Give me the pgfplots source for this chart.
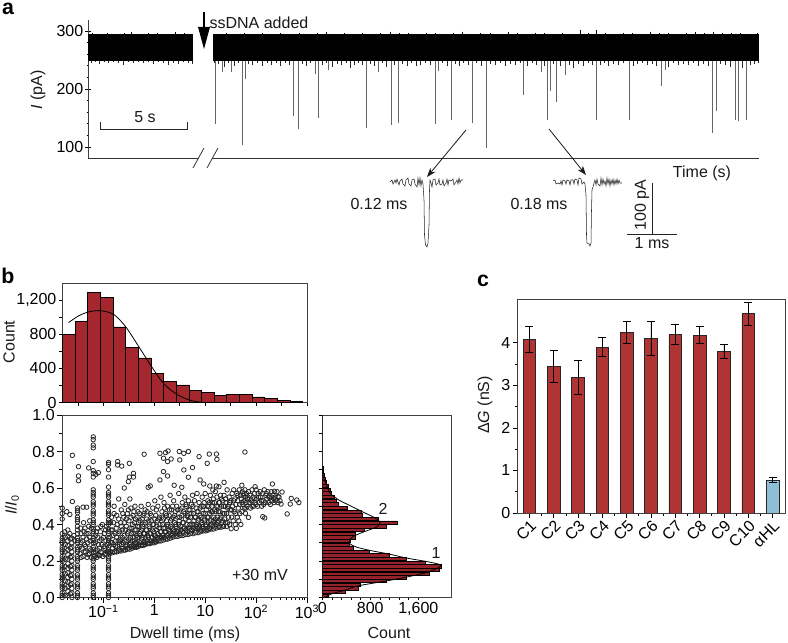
\documentclass[border=0pt]{standalone}
\usepackage{fontspec}
\setmainfont{Liberation Sans}
\usepackage{pgfplots}
\pgfplotsset{compat=1.18}
\usetikzlibrary{arrows.meta}
\definecolor{histred}{RGB}{165,38,44}
\definecolor{barred}{RGB}{176,52,52}
\definecolor{barblue}{RGB}{143,191,214}
\newcommand{\chartfont}{\fontsize{12}{14}\selectfont}
\tikzset{lbl/.style={font=\chartfont, text=black!90}, plab/.style={font=\fontsize{16}{18}\selectfont\bfseries, text=black}}
\pgfplotsset{
  panel/.style={
    scale only axis, anchor=south west, tick align=outside,
    tick label style={font=\chartfont, inner sep=1.5pt},
    major tick length=3.8pt, minor tick length=2.2pt,
    tick style={black, line width=.5pt},
    axis line style={draw=black!75, line width=.7pt},
    xtick pos=bottom, ytick pos=left,
  },
}
\begin{document}
\begin{tikzpicture}
\path[use as bounding box] (0,0) rectangle (591pt,481.5pt);

% panel a: x is the position along the trace, 17.4 units = 1 s
\begin{axis}[panel, at={(66pt,363pt)}, width=503.25pt, height=103.5pt,
  xmin=88, xmax=759, ymin=81, ymax=319,
  axis x line=none, axis y line=left, axis line style={-, draw=black!75, line width=.7pt},
  ytick={100,200,300}, yticklabels={100,200,300}, minor y tick num=4]
% deep events
\addplot[draw=none, mark=none, error bars/.cd, y dir=plus, y explicit, error mark=none,
  error bar style={black!60, line width=.75pt}]
  table[x=t, y=i, y error expr=270-\thisrow{i}] {
t i
215 140
222 229
231 229
242 103
245 217
293 153
298 131
315 226
318 150
328 233
366 133
378 229
391 138
398 141
435 140
438 231
451 147
472 141
486 98
523 190
541 229
547 147
550 197
556 178
565 224
596 147
629 147
661 205
665 233
712 124
716 162
735 147
738 145
746 147
};
% noise below the band
\addplot[draw=none, mark=none, error bars/.cd, y dir=plus, y explicit, error mark=none,
  error bar style={black!85, line width=.5pt}]
  table[x=t, y=i, y error expr=270-\thisrow{i}] {
t i
91 245
95 247
99 243
104 246
108 244
113 247
118 245
123 242
128 246
133 244
138 247
143 245
148 246
153 243
158 247
163 244
168 241
173 245
178 243
183 246
188 244
192 243
214 244
218 243
224 238
228 244
234 239
238 245
248 243
252 241
257 245
262 240
267 244
271 242
276 245
280 239
285 244
289 241
302 243
306 240
310 244
322 242
326 245
332 238
337 243
341 241
346 244
350 237
354 242
358 244
362 241
370 243
374 240
382 244
386 238
394 242
402 243
407 240
411 244
416 239
420 242
425 245
430 241
442 244
447 239
455 243
459 240
463 245
468 241
476 244
481 240
490 243
495 241
500 245
505 240
510 243
515 241
520 245
527 240
532 244
536 242
544 240
553 243
560 239
569 241
573 237
578 243
583 240
588 244
592 241
600 242
604 245
608 240
613 243
618 241
623 244
633 240
637 243
642 245
647 241
652 243
656 240
668 238
673 244
678 241
683 243
688 242
693 245
698 240
703 243
708 240
720 243
725 241
730 238
742 236
750 241
754 243
758 244
};
% noise above the band
\addplot[draw=none, mark=none, error bars/.cd, y dir=minus, y explicit, error mark=none,
  error bar style={black, line width=.5pt}]
  table[x=t, y=i, y error expr=\thisrow{i}-270] {
t i
92 296
99 295
107 297
115 295
124 296
131 298
140 295
148 296
157 297
166 295
175 298
184 296
191 295
218 295
226 296
235 295
244 297
253 295
262 296
271 295
280 296
290 295
299 297
308 295
317 296
326 298
335 295
344 296
353 295
362 297
371 295
380 296
390 299
399 296
408 296
417 295
426 297
435 296
444 295
453 296
462 299
471 295
480 296
490 297
499 295
508 298
517 296
526 295
535 297
544 296
553 295
562 296
571 295
580 302
588 297
596 301
605 296
614 295
623 297
632 296
641 295
650 299
659 296
668 297
677 295
686 296
695 298
704 296
713 299
722 296
731 297
740 296
750 295
757 296
};
% the band itself
\addplot[fill=black, draw=none] coordinates {(88,248)(88,294)(193,294)(193,248)} -- cycle;
\addplot[fill=black, draw=none] coordinates {(213,248)(213,294)(759,294)(759,248)} -- cycle;
\end{axis}

% panel b, top histogram; x in decades of dwell time
\begin{axis}[panel, at={(46.5pt,179.625pt)}, width=183.75pt, height=89.625pt,
  xmin=-1.814, xmax=3, ymin=0, ymax=1400,
  ytick={0,400,800,1200}, yticklabels={0,400,800,{1,200}}, minor y tick num=1,
  xtick={-1.5,-1,-.5,0,.5,1,1.5,2,2.5,3}, xticklabels=\empty, major tick length=2.5pt]
\addplot[ybar interval, fill=histred, draw=black, line width=.55pt] table {
-1.804 800
-1.556 945
-1.314 1290
-1.059 1230
-.810 885
-.562 650
-.314 522
-.065 343
.183 245
.431 205
.680 140
.928 120
1.176 80
1.425 98
1.673 90
1.922 65
2.170 50
2.418 27
2.667 8
2.915 8
};
\addplot[smooth, black, line width=.6pt] coordinates {
(-1.686,936)(-1.49,1014)(-1.294,1061)(-1.065,1076)(-.804,1034)(-.575,897)(-.314,663)
(-.085,449)(.176,226)(.438,98)(.699,27)(.961,0)};
\end{axis}

% panel b, scatter; x in decades of dwell time
\begin{axis}[panel, at={(46.5pt,33.375pt)}, width=183.75pt, height=136.875pt,
  xmin=-1.814, xmax=3, ymin=0, ymax=1, clip=false,
  ytick={0,.2,.4,.6,.8,1}, yticklabels={0.0,0.2,0.4,0.6,0.8,1.0}, minor y tick num=1,
  xtick={-1,0,1,2,3}, xticklabels={10\textsuperscript{−1},1,10,10\textsuperscript{2},10\textsuperscript{3}},
  minor xtick={-1.70,-1.52,-1.40,-1.30,-1.22,-1.15,-1.10,-1.05,-.70,-.52,-.40,-.30,-.22,-.15,-.10,-.05,
    .30,.48,.60,.70,.78,.85,.90,.95,1.30,1.48,1.60,1.70,1.78,1.85,1.90,1.95,2.30,2.48,2.60,2.70,2.78,2.85,2.90,2.95}]
\addplot[only marks, mark=o, mark size=1.7pt, mark options={draw=black!85, line width=.6pt}] table {
-1.81 0
-1.81 .025
-1.81 .05
-1.81 .075
-1.81 .10
-1.81 .125
-1.81 .15
-1.81 .175
-1.81 .20
-1.81 .225
-1.81 .25
-1.81 .275
-1.81 .30
-1.81 .325
-1.81 .35
-1.81 .43
-1.81 .46
-1.81 .49
-1.81 .012
-1.81 .062
-1.81 .112
-1.81 .162
-1.81 .212
-1.81 .262
-1.81 .312
-1.75 .01
-1.75 .05
-1.75 .09
-1.75 .13
-1.75 .17
-1.75 .21
-1.75 .25
-1.75 .29
-1.75 .33
-1.70 .01
-1.70 .035
-1.70 .06
-1.70 .085
-1.70 .11
-1.70 .135
-1.70 .16
-1.70 .185
-1.70 .21
-1.70 .235
-1.70 .26
-1.70 .285
-1.70 .31
-1.70 .335
-1.70 .37
-1.65 .02
-1.65 .07
-1.65 .12
-1.65 .17
-1.65 .22
-1.65 .27
-1.65 .32
-1.62 0
-1.62 .025
-1.62 .05
-1.62 .075
-1.62 .10
-1.62 .125
-1.62 .15
-1.62 .175
-1.62 .20
-1.62 .225
-1.62 .25
-1.62 .275
-1.62 .30
-1.62 .325
-1.51 0
-1.51 .025
-1.51 .05
-1.51 .075
-1.51 .10
-1.51 .125
-1.51 .15
-1.51 .175
-1.51 .20
-1.51 .225
-1.51 .25
-1.51 .275
-1.51 .30
-1.51 .325
-1.51 .35
-1.51 .39
-1.51 .415
-1.51 .44
-1.51 .465
-1.51 .49
-1.51 .012
-1.51 .062
-1.51 .112
-1.51 .162
-1.51 .212
-1.51 .262
-1.51 .312
-1.51 .37
-1.51 .427
-1.51 .477
-1.20 0
-1.20 .025
-1.20 .05
-1.20 .075
-1.20 .10
-1.20 .125
-1.20 .15
-1.20 .175
-1.20 .20
-1.20 .225
-1.20 .25
-1.20 .275
-1.20 .30
-1.20 .325
-1.20 .35
-1.20 .375
-1.20 .40
-1.20 .425
-1.20 .45
-1.20 .475
-1.20 .50
-1.20 .525
-1.20 .55
-1.20 .575
-1.20 .59
-1.20 .66
-1.20 .68
-1.20 .695
-1.20 .745
-1.20 .82
-1.20 .835
-1.20 .865
-1.20 .88
-1.20 .012
-1.20 .062
-1.20 .112
-1.20 .162
-1.20 .212
-1.20 .262
-1.20 .312
-1.20 .362
-1.20 .412
-1.20 .462
-1.20 .512
-1.20 .562
-.90 0
-.90 .025
-.90 .05
-.90 .075
-.90 .10
-.90 .125
-.90 .15
-.90 .175
-.90 .20
-.90 .225
-.90 .25
-.90 .275
-.90 .30
-.90 .325
-.90 .35
-.90 .375
-.90 .40
-.90 .425
-.90 .45
-.90 .475
-.90 .50
-.90 .525
-.90 .55
-.90 .575
-.90 .605
-.90 .66
-.90 .70
-.90 .73
-.90 .74
-.90 .012
-.90 .062
-.90 .112
-.90 .162
-.90 .212
-.90 .262
-.90 .312
-.90 .362
-.90 .412
-.90 .462
-.90 .512
-.90 .562
-1.61 .779
-1.49 .717
-1.49 .666
-1.49 .64
-1.61 .526
-1.29 .71
-1.10 .684
-1.15 .675
-.72 .745
-.72 .726
-.64 .72
-.49 .735
-.41 .68
-.41 .66
-.49 .66
-.51 .635
-.59 .6
-.2 .785
.11 .79
.18 .763
.22 .794
.27 .803
.26 .745
.33 .759
.18 .69
.11 .644
.26 .666
-.08 .611
-.12 .604
.39 .615
.54 .604
.58 .699
.75 .712
.67 .659
.49 .8
.50 .754
.58 .79
.67 .8
.88 .772
1.04 .735
1.08 .786
1.22 .786
1.23 .757
.90 .644
.97 .622
1.78 .797
2.32 .622
1.37 .631
1.27 .607
1.22 .611
1.09 .611
1.15 .589
2.61 .458
2.84 .52
2.80 .534
2.69 .543
2.67 .512
2.51 .578
2.49 .512
2.43 .553
2.36 .582
2.17 .436
2.13 .443
1.98 .607
1.85 .439
1.79 .461
1.72 .615
-1.40 .495
-1.33 .495
-1.72 .47
-1.66 .455
-1.76 .36
-1.66 .35
-1.58 .34
-1.56 .31
-1.46 .24
-1.44 .30
-1.44 .35
-1.42 .27
-1.40 .33
-1.40 .225
-1.37 .29
-1.36 .38
-1.35 .25
-1.33 .32
-1.30 .235
-1.30 .35
-1.28 .27
-1.27 .42
-1.26 .31
-1.24 .22
-1.24 .38
-1.16 .25
-1.15 .34
-1.13 .22
-1.12 .38
-1.10 .29
-1.09 .23
-1.06 .36
-1.05 .25
-1.04 .32
-1.02 .40
-1.01 .225
-.99 .28
-.98 .35
-.96 .24
-.95 .31
-.94 .39
-.86 .25
-.85 .30
-.85 .37
-.84 .44
-.82 .27
-.81 .34
-.80 .41
-.79 .50
-.78 .25
-.76 .31
-.75 .38
-.74 .45
-.72 .28
-.71 .35
-.70 .54
-.68 .26
-.67 .32
-.66 .41
-.65 .48
-.64 .29
-.63 .37
-.62 .27
-.60 .44
-.59 .34
-.58 .51
-.56 .28
-.55 .39
-.54 .31
-.53 .46
-.52 .27
-.51 .36
-.50 .42
-.49 .29
-.48 .54
-.47 .33
-.46 .49
-.45 .28
-.44 .38
-.43 .31
-.42 .45
-.41 .28
-.40 .35
-.39 .41
-.38 .50
-.37 .30
-.36 .37
-.35 .28
-.34 .44
-.33 .33
-.32 .47
-.31 .29
-.30 .39
-.29 .35
-.28 .42
-.27 .30
-.26 .50
-.25 .37
-.24 .29
-.23 .33
-.22 .45
-.21 .30
-.20 .40
-.19 .35
-.18 .48
-.17 .30
-.16 .37
-.15 .43
-.14 .31
-.13 .34
-.12 .51
-.11 .30
-.10 .39
-.09 .35
-.08 .46
-.07 .31
-.06 .42
-.05 .33
-.04 .37
-.03 .49
-.02 .31
-.01 .40
0 .34
.01 .53
.02 .31
.03 .45
.04 .37
.05 .33
.06 .42
.07 .50
.08 .32
.09 .38
.10 .44
.11 .33
.12 .36
.13 .55
.14 .33
.15 .47
.16 .40
.17 .34
.18 .43
.19 .52
.20 .33
.21 .38
.22 .46
.23 .36
.24 .42
.25 .34
.26 .50
.27 .39
.28 .35
.29 .45
.30 .36
.31 .56
.32 .42
.33 .34
.34 .48
.35 .38
.36 .35
.37 .44
.38 .53
.39 .36
.40 .41
.41 .47
.42 .35
.43 .39
.44 .50
.45 .36
.46 .44
.47 .37
.48 .57
.49 .42
.50 .35
.51 .48
.52 .39
.53 .37
.54 .45
.55 .52
.56 .36
.57 .41
.58 .47
.59 .38
.60 .55
.61 .43
.62 .37
.63 .50
.64 .40
.65 .45
.66 .36
.67 .53
.68 .42
.69 .38
.70 .48
.71 .44
.72 .37
.73 .51
.74 .40
.75 .56
.76 .38
.77 .46
.78 .42
.79 .53
.80 .38
.81 .44
.82 .49
.83 .40
.84 .57
.85 .38
.86 .47
.87 .43
.88 .52
.89 .39
.90 .45
.91 .37
.92 .50
.93 .41
.94 .55
.95 .39
.96 .46
.97 .38
.98 .52
.99 .43
1.00 .57
1.01 .39
1.02 .48
1.03 .37
1.04 .44
1.05 .53
1.06 .41
1.07 .50
1.08 .38
1.09 .46
1.10 .56
1.11 .42
1.12 .40
1.13 .50
1.14 .47
1.15 .39
1.16 .54
1.17 .44
1.18 .52
1.19 .41
1.20 .58
1.21 .47
1.22 .40
1.23 .55
1.24 .44
1.25 .50
1.26 .42
1.27 .52
1.28 .39
1.29 .47
1.30 .56
1.31 .44
1.32 .50
1.33 .41
1.34 .53
1.35 .46
1.36 .39
1.37 .56
1.38 .43
1.39 .50
1.40 .41
1.41 .52
1.42 .46
1.43 .59
1.44 .41
1.45 .50
1.46 .44
1.47 .55
1.48 .40
1.49 .48
1.50 .53
1.51 .377
1.52 .44
1.53 .57
1.54 .50
1.55 .42
1.56 .59
1.57 .47
1.58 .54
1.59 .40
1.60 .51
1.61 .379
1.62 .57
1.63 .44
1.64 .53
1.65 .49
1.66 .42
1.67 .59
1.68 .51
1.69 .56
1.70 .40
1.71 .54
1.72 .47
1.73 .58
1.74 .51
1.75 .56
1.76 .53
1.77 .49
1.78 .59
1.79 .55
1.80 .52
1.81 .57
1.82 .50
1.83 .54
1.85 .58
1.86 .52
1.88 .56
1.89 .49
1.91 .53
1.92 .59
1.94 .55
1.95 .50
1.97 .57
1.98 .52
2.00 .59
2.01 .54
2.03 .50
2.04 .57
2.06 .52
2.08 .58
2.09 .55
2.11 .50
2.13 .57
2.14 .53
2.16 .59
2.18 .52
2.19 .56
2.21 .54
2.23 .58
2.25 .52
2.26 .55
2.28 .51
2.30 .58
2.31 .53
2.33 .56
2.35 .52
2.37 .55
2.39 .53
2.41 .58
2.43 .52
2.45 .55
2.47 .53
-1.44 .22
-1.38 .25
-1.32 .22
-1.27 .24
-1.17 .225
-1.11 .235
-1.07 .23
-1.03 .245
-.97 .235
-.93 .25
-.88 .24
-.83 .245
-.79 .25
-.74 .25
-.70 .255
-.65 .255
-.60 .26
-.57 .26
-.53 .265
-.48 .265
-.44 .27
-.39 .275
-.35 .275
-.31 .28
-.26 .285
-.22 .285
-.18 .29
-.13 .295
-.09 .295
-.04 .30
0 .30
.04 .305
.09 .31
.13 .31
.18 .315
.22 .32
.26 .32
.31 .325
.36 .33
.41 .335
.46 .335
.51 .34
.56 .34
.61 .345
.66 .345
.71 .35
.76 .35
.81 .355
.86 .355
.91 .36
.96 .365
1.01 .365
1.06 .37
1.11 .375
1.16 .375
1.21 .38
1.26 .385
1.31 .385
1.36 .39
1.42 .39
-1.46 .28
-1.45 .38
-1.41 .31
-1.39 .41
-1.38 .36
-1.35 .28
-1.34 .35
-1.31 .30
-1.29 .39
-1.27 .33
-1.25 .26
-1.16 .30
-1.14 .36
-1.12 .26
-1.11 .33
-1.08 .27
-1.07 .31
-1.05 .39
-1.03 .29
-1.00 .33
-.97 .27
-.96 .37
-.93 .29
-.87 .33
-.86 .41
-.83 .30
-.82 .37
-.80 .29
-.79 .46
-.77 .35
-.76 .28
-.74 .33
-.73 .40
-.71 .31
-.70 .43
-.69 .29
-.68 .36
-.66 .31
-.65 .39
-.63 .33
-.62 .46
-.61 .30
-.59 .41
-.58 .31
-.57 .37
-.55 .43
-.54 .29
-.53 .35
-.51 .48
-.50 .32
-.48 .38
-.47 .30
-.46 .44
-.45 .35
-.43 .40
-.42 .33
-.40 .47
-.39 .31
-.38 .37
-.37 .43
-.35 .34
-.34 .30
-.33 .39
-.31 .41
-.30 .33
-.29 .46
-.27 .36
-.25 .32
-.24 .43
-.23 .39
-.21 .35
-.20 .46
-.18 .33
-.17 .41
-.15 .37
-.14 .47
-.12 .33
-.11 .42
-.09 .38
-.07 .35
-.06 .45
-.04 .33
-.03 .40
-.01 .36
.01 .43
.02 .34
.04 .48
.05 .39
.07 .35
.09 .43
.11 .40
.13 .36
.15 .44
.16 .34
.18 .38
.20 .49
.22 .36
.24 .45
.26 .40
.28 .37
.30 .48
.32 .39
.34 .43
.36 .50
.38 .37
.40 .45
.42 .40
.44 .36
.46 .48
.48 .40
.50 .44
.52 .37
.54 .49
.56 .41
.58 .38
.60 .46
.62 .51
.64 .38
.66 .44
.68 .48
.70 .40
.72 .46
.74 .37
.76 .50
.78 .40
.80 .44
.82 .39
.84 .47
.86 .42
.88 .38
.90 .49
.92 .44
.94 .40
.96 .50
.98 .42
1.00 .46
1.02 .40
1.04 .50
1.06 .44
1.08 .52
1.10 .40
1.12 .47
1.14 .52
1.16 .42
1.18 .48
1.20 .43
1.22 .50
1.24 .41
1.26 .47
1.28 .52
1.30 .43
1.32 .54
1.34 .42
1.36 .50
1.38 .46
1.40 .54
1.44 .49
1.48 .52
1.52 .48
1.56 .53
1.60 .46
1.64 .56
1.68 .46
1.72 .52
1.76 .57
1.80 .49
1.84 .55
1.88 .52
1.92 .50
1.96 .54
2.00 .51
2.05 .55
2.10 .53
2.15 .51
2.20 .57
2.25 .55
2.30 .55
2.35 .54
};
\end{axis}

% panel b, side histogram
\begin{axis}[panel, at={(241.725pt,33.375pt)}, width=96.525pt, height=136.875pt,
  xmin=0, xmax=2145, ymin=0, ymax=1, major tick length=2.2pt, minor tick length=1.6pt,
  xtick={0,800,1600}, xticklabels={0,800,{1,600}}, minor x tick num=4,
  ytick={0,.1,.2,.3,.4,.5,.6,.7,.8,.9,1}, yticklabels=\empty]
\addplot[xbar, bar width=.0185, bar shift=0pt, fill=histred!90!black, draw=black, line width=.55pt] table {
100 .01
380 .03
600 .05
640 .07
1070 .09
1405 .11
1783 .13
1945 .15
1990 .17
1710 .19
1405 .21
1110 .23
783 .25
517 .27
450 .29
461 .31
556 .33
556 .35
700 .37
1072 .39
1255 .41
933 .43
672 .45
655 .47
422 .49
267 .51
239 .53
194 .55
155 .57
128 .59
100 .61
72 .63
44 .65
28 .67
17 .69
11 .71
};
\addplot[smooth, black, line width=.6pt] coordinates {
(44,0)(156,.02)(350,.038)(600,.064)(1072,.091)(1405,.112)(1739,.137)(1944,.165)(1961,.18)(1739,.197)
(1405,.216)(1111,.238)(794,.258)(572,.276)(461,.294)(450,.313)(517,.335)(711,.362)(906,.386)(961,.408)
(906,.431)(656,.472)(433,.508)(267,.536)(128,.572)(72,.618)(17,.66)(0,.70)(0,.80)(0,1)};
\end{axis}

% panel c
\begin{axis}[panel, at={(388.275pt,96.75pt)}, width=200.475pt, height=160.5pt,
  xmin=-.479, xmax=10.51, ymin=0, ymax=5.03,
  ytick={0,1,2,3,4}, yticklabels={0,1,2,3,4}, minor y tick num=1,
  xtick={0,1,...,10}, xticklabels={C1,C2,C3,C4,C5,C6,C7,C8,C9,C10,αHL}, minor x tick num=1,
  xticklabel style={rotate=45, anchor=north east, inner sep=0.5pt}]
\addplot[ybar, bar width=.52, bar shift=0pt, fill=barred, draw=black!85, line width=.6pt,
  error bars/.cd, y dir=both, y explicit, error bar style={black, line width=.6pt},
  error mark options={rotate=90, mark size=3pt, line width=.6pt}]
  table[x=n, y=g, y error=e] {
n g e
0 4.08 .30
1 3.45 .37
2 3.18 .40
3 3.90 .23
4 4.25 .265
5 4.11 .40
6 4.20 .235
7 4.18 .195
8 3.80 .16
9 4.68 .26
};
\addplot[ybar, bar width=.52, bar shift=0pt, fill=barblue, draw=black!85, line width=.6pt,
  error bars/.cd, y dir=both, y explicit, error bar style={black, line width=.6pt},
  error mark options={rotate=90, mark size=3pt, line width=.6pt}]
  table[x=n, y=g, y error=e] {
n g e
10 .775 .06
};
\end{axis}

% text, scale bars and single-event traces, in picture pixels (y = -row)
\begin{axis}[at={(0pt,0pt)}, anchor=south west, scale only axis, width=591pt, height=481.5pt,
  xmin=0, xmax=788, ymin=-642, ymax=0, hide axis, clip=false]
% broken time axis
\addplot[black!80, line width=.7pt] coordinates {(88,-158)(198,-158)};
\addplot[black!80, line width=.7pt] coordinates {(212,-158)(759,-158)};
\addplot[black!80, line width=.6pt] coordinates {(193,-168)(204,-148)};
\addplot[black!80, line width=.6pt] coordinates {(207,-168)(218,-148)};
% addition arrow
\addplot[black, line width=.9pt] coordinates {(204,-12)(204,-30)};
\addplot[fill=black, draw=none] coordinates {(198,-27)(210,-27)(204,-49)} -- cycle;
% 5 s bar
\addplot[black!85, line width=.6pt] coordinates {(100,-122)(100,-129)(187,-129)(187,-122)};
% event arrows
\draw[black!90, line width=.6pt, -{Stealth[length=7pt, width=5pt]}] (axis cs:466,-130) -- (axis cs:427,-177);
\draw[black!90, line width=.6pt, -{Stealth[length=7pt, width=5pt]}] (axis cs:549,-129) -- (axis cs:586,-175);
% first event
\addplot[black!85, line width=.4pt] coordinates {
(390,-182)(392,-180)(393,-184)(395,-180)(396,-183)(397,-179)(399,-185)(400,-181)
(402,-179)(403,-184)(405,-186)(406,-180)(408,-178)(409,-184)(411,-186)
(412,-180)(414,-179)(415,-184)(417,-187)(418,-178)(419,-185)(420,-178)(421,-186)(422,-180)
(423,-184)(424,-200)(424.5,-235)(425.5,-245)(427,-247)(428,-243)(429,-225)(429.5,-190)(430,-180)(431,-183)
(432,-187)(433,-180)(435,-179)(436,-185)(438,-183)(439,-179)(440,-185)(442,-184)
(443,-180)(444,-186)(446,-183)(447,-179)(448,-185)(449,-180)(451,-181)(453,-179)
(454,-185)(456,-182)(457,-180)(458,-184)(459,-178)(460,-183)(461,-180)(463,-180)};
% second event
\addplot[black!85, line width=.4pt] coordinates {
(553,-181)(555,-180)(556,-184)(558,-183)(560,-184)(561,-181)(562,-185)(563,-180)
(565,-181)(566,-184)(567,-180)(569,-181)(570,-185)(571,-180)(573,-180)(574,-184)
(575,-179)(577,-180)(578,-185)(579,-178)(581,-179)(582,-184)(584,-182)(585,-184)
(586,-195)(586.5,-235)(587,-243)(589,-244)(590,-246)(591,-243)(591.5,-210)(592,-190)(593,-187)(594,-183)
(595,-180)(596,-185)(597,-179)(598,-184)(600,-186)(601,-178)(602,-185)(603,-179)(604,-184)(605,-181)
(606,-186)(607,-178)(608,-184)(609,-179)(610,-186)(611,-180)(612,-184)(613,-179)(614,-185)(615,-180)(616,-184)
(617,-179)(618,-184)(619,-180)(620,-183)(622,-183)};
% 100 pA / 1 ms bar
\addplot[black!85, line width=.6pt] coordinates {(652,-183)(652,-234)};
\addplot[black!85, line width=.6pt] coordinates {(627,-234)(677,-234)};
\node[lbl] at (axis cs:259,-23) {ssDNA added};
\node[lbl] at (axis cs:145,-117) {5 s};
\node[lbl, rotate=90] at (axis cs:38,-90) {\textit{I} (pA)};
\node[lbl] at (axis cs:702,-173) {Time (s)};
\node[lbl] at (axis cs:379,-204) {0.12 ms};
\node[lbl] at (axis cs:539,-204) {0.18 ms};
\node[lbl, rotate=90] at (axis cs:642,-205) {100 pA};
\node[lbl] at (axis cs:652,-243) {1 ms};
\node[lbl, rotate=90] at (axis cs:9,-342) {Count};
\node[lbl, rotate=90] at (axis cs:12,-505) {\textit{I}/\textit{I}\textsubscript{0}};
\node[lbl] at (axis cs:185,-634) {Dwell time (ms)};
\node[lbl] at (axis cs:260,-575) {+30 mV};
\node[lbl] at (axis cs:389,-633) {Count};
\node[lbl] at (axis cs:383,-509) {2};
\node[lbl] at (axis cs:436,-553) {1};
\node[lbl, rotate=90] at (axis cs:485,-405) {Δ\textit{G} (nS)};
\node[plab] at (axis cs:8,-9) {a};
\node[plab] at (axis cs:8,-276) {b};
\node[plab] at (axis cs:483,-281) {c};
\end{axis}
\end{tikzpicture}
\end{document}
